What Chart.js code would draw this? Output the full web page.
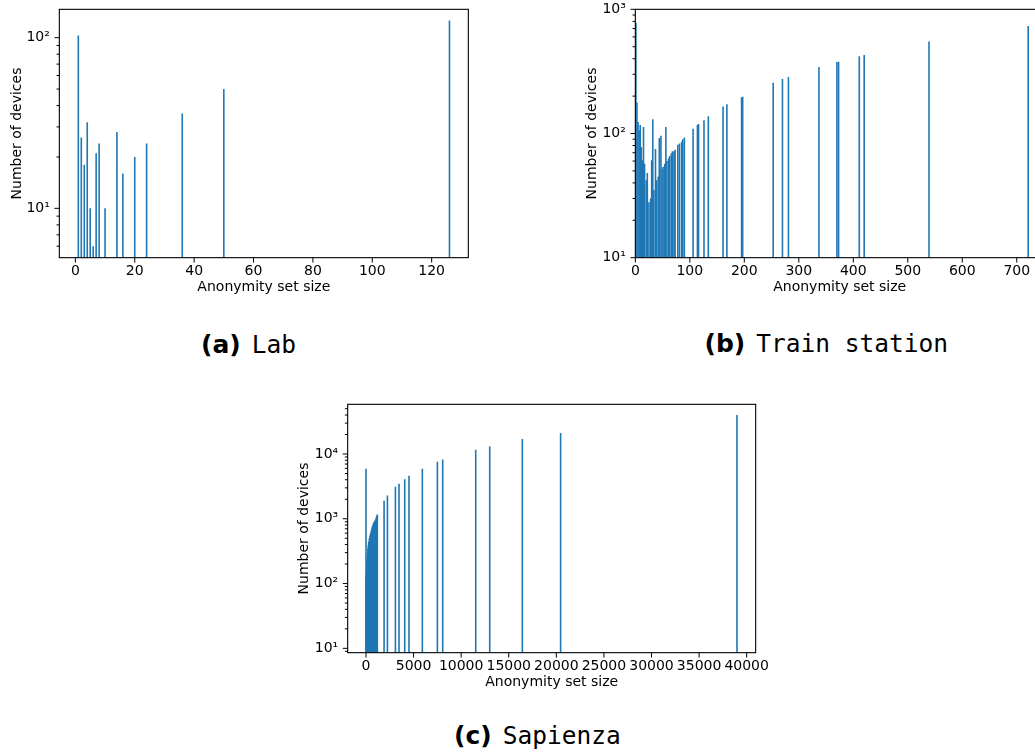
<!DOCTYPE html>
<html>
<head>
<meta charset="utf-8">
<script src="https://cdn.jsdelivr.net/npm/chart.js@4.4.0/dist/chart.umd.min.js"></script>
<style>
    html, body { margin: 0; padding: 0; background: #fff; overflow: hidden; }
    #page { position: relative; width: 1035px; height: 756px; overflow: hidden; background: #fff; }
    canvas { position: absolute; }
    .cap { position: absolute; white-space: nowrap; color: #000; font: 24.5px "DejaVu Sans Mono"; line-height: 30px; }
    .cap b { font: bold 25px "DejaVu Sans"; margin-right: 11px; }
</style>
</head>
<body>
<div id="page">
    <canvas id="lab" width="480" height="300" style="left:0;top:0"></canvas>
    <canvas id="train" width="485" height="300" style="left:570px;top:0"></canvas>
    <canvas id="sap" width="500" height="300" style="left:280px;top:395px"></canvas>
    <div class="cap" style="left:201px;top:329.5px"><b>(a)</b>Lab</div>
    <div class="cap" style="left:704.5px;top:329px"><b>(b)</b>Train station</div>
    <div class="cap" style="left:454px;top:720.5px"><b>(c)</b>Sapienza</div>
</div>
<script>
// (a) Lab
const labSizes = [1, 2, 3, 4, 5, 6, 7, 8, 10, 14, 16, 20, 24, 36, 50, 126];
const labDevices = [103, 26, 18, 32, 10, 6, 21, 24, 10, 28, 16, 20, 24, 36, 50, 126];

// (b) Train station
const trainSizes = [
    1, 3, 5, 7, 9, 11, 13, 15, 17, 20, 22, 25, 28, 30, 32, 34, 37, 39, 42, 44,
    47, 49, 51, 54, 56, 58, 61, 63, 66, 68, 71, 73, 78, 81, 85, 87, 90,
    106, 114, 116, 126, 134, 161, 168, 195, 197, 253, 270, 281, 337, 370, 373,
    411, 420, 539, 721,
];
const trainDevices = [
    785, 178, 124, 106, 117, 78, 61, 113, 57, 42, 48, 28, 30, 61, 130, 35, 75, 42, 45, 92,
    96, 52, 54, 57, 113, 60, 63, 66, 69, 72, 72, 74, 81, 83, 86, 90, 93,
    109, 117, 119, 128, 138, 165, 172, 196, 198, 256, 275, 285, 344, 376, 379,
    418, 429, 550, 735,
];

// (c) Sapienza
const sapSizes = [
    1, 10, 40, 70, 105, 140, 175, 210, 245, 280, 350, 420, 490, 560, 630, 700,
    770, 840, 910, 980, 1050, 1120, 1190,
    1900, 2250, 3090, 3470, 4070, 4520, 5920, 7500, 8060, 11530, 13000, 16430,
    20450, 38980,
];
const sapDevices = [
    5920, 122, 150, 190, 225, 258, 300, 347, 395, 440, 500, 557, 610, 670, 735, 790,
    845, 885, 920, 960, 1030, 1110, 1160,
    1900, 2290, 3120, 3470, 4090, 4610, 5920, 7590, 8240, 11640, 13120, 17020,
    21100, 40000,
];

// tick positions
const labXTicks = [0, 20, 40, 60, 80, 100, 120];
const labYTicks = [6, 7, 8, 9, 10, 20, 30, 40, 50, 60, 70, 80, 90, 100];
const trainXTicks = [0, 100, 200, 300, 400, 500, 600, 700];
const trainYTicks = [10, 20, 30, 40, 50, 60, 70, 80, 90, 100, 200, 300, 400, 500, 600, 700, 800, 900, 1000];
const sapXTicks = [0, 5000, 10000, 15000, 20000, 25000, 30000, 35000, 40000];
const sapYTicks = [
    9, 10, 20, 30, 40, 50, 60, 70, 80, 90, 100, 200, 300, 400, 500, 600, 700, 800, 900,
    1000, 2000, 3000, 4000, 5000, 6000, 7000, 8000, 9000, 10000, 20000, 30000, 40000, 50000,
];

const sup = { 1: "\u00b9", 2: "\u00b2", 3: "\u00b3", 4: "\u2074" };
const isDecade = (v) => {
    const e = Math.log10(v);
    return Math.abs(e - Math.round(e)) < 1e-9;
};

Chart.defaults.font.family = "DejaVu Sans";
Chart.defaults.font.size = 14;
Chart.defaults.color = "#000";

// matplotlib-like frame and tick marks (major / minor)
const frameAndTicks = {
    id: "frameAndTicks",
    afterDraw(chart) {
        const { ctx, chartArea: a, scales: { x, y } } = chart;
        ctx.save();
        ctx.strokeStyle = "#000";
        ctx.lineWidth = 1;
        ctx.beginPath();
        y.ticks.forEach((t) => {
            const py = y.getPixelForValue(t.value);
            const len = isDecade(t.value) ? 4.9 : 2.8;
            ctx.moveTo(a.left - len, py);
            ctx.lineTo(a.left, py);
        });
        x.ticks.forEach((t) => {
            const px = x.getPixelForValue(t.value);
            ctx.moveTo(px, a.bottom);
            ctx.lineTo(px, a.bottom + 4.9);
        });
        ctx.stroke();
        ctx.lineWidth = 1.1;
        ctx.strokeRect(a.left, a.top, a.right - a.left, a.bottom - a.top);
        ctx.restore();
    },
};

function noScalePadding(s) {
    s.paddingLeft = 0;
    s.paddingRight = 0;
    s.paddingTop = 0;
    s.paddingBottom = 0;
}

function makeChart(id, sizes, devices, c) {
    return new Chart(document.getElementById(id), {
        type: "bar",
        data: {
            datasets: [
                {
                    data: sizes.map((s, i) => ({ x: s, y: devices[i] })),
                    backgroundColor: "#1f77b4",
                    barThickness: 1.6,
                    inflateAmount: 0,
                    borderWidth: 0,
                },
            ],
        },
        options: {
            responsive: false,
            animation: false,
            devicePixelRatio: 1,
            layout: { padding: c.pad },
            plugins: {
                legend: { display: false },
                tooltip: { enabled: false },
            },
            scales: {
                x: {
                    type: "linear",
                    offset: false,
                    min: c.xMin,
                    max: c.xMax,
                    bounds: "data",
                    grid: { display: false, drawTicks: false, tickLength: 0, offset: false },
                    border: { display: false },
                    ticks: {
                        padding: 5,
                        maxRotation: 0,
                        autoSkip: false,
                        callback: (v) => String(v),
                    },
                    afterBuildTicks: (s) => {
                        s.ticks = c.xTicks.map((v) => ({ value: v }));
                    },
                    afterFit: (s) => {
                        s.height = c.xH;
                        noScalePadding(s);
                    },
                    title: {
                        display: true,
                        text: "Anonymity set size",
                        padding: { top: 0, bottom: 4.1 },
                    },
                },
                y: {
                    type: "logarithmic",
                    min: c.yMin,
                    max: c.yMax,
                    bounds: "data",
                    grid: { display: false, drawTicks: false, tickLength: 0 },
                    border: { display: false },
                    ticks: {
                        padding: 9.5,
                        autoSkip: false,
                        callback: (v) => (isDecade(v) ? "10" + sup[Math.round(Math.log10(v))] : ""),
                    },
                    afterBuildTicks: (s) => {
                        s.ticks = c.yTicks.map((v) => ({ value: v }));
                    },
                    afterFit: (s) => {
                        s.width = c.yW;
                        noScalePadding(s);
                    },
                    title: {
                        display: true,
                        text: "Number of devices",
                        padding: { top: c.yTitlePad, bottom: 0 },
                    },
                },
            },
        },
        plugins: [frameAndTicks],
    });
}

makeChart("lab", labSizes, labDevices, {
    xMin: -5.4, xMax: 132.35, yMin: 5.14, yMax: 146.6,
    xTicks: labXTicks, yTicks: labYTicks,
    yW: 59.33, xH: 42.33, yTitlePad: 8.5,
    pad: { left: 0, top: 9.33, right: 11.67, bottom: 0 },
});

makeChart("train", trainSizes, trainDevices, {
    xMin: 0, xMax: 750, yMin: 10, yMax: 1000,
    xTicks: trainXTicks, yTicks: trainYTicks,
    yW: 65.33, xH: 42.33, yTitlePad: 13.8,
    pad: { left: 0, top: 9.33, right: 11, bottom: 0 },
});

makeChart("sap", sapSizes, sapDevices, {
    xMin: -1926, xMax: 40946, yMin: 8.57, yMax: 58450,
    xTicks: sapXTicks, yTicks: sapYTicks,
    yW: 67.67, xH: 42.33, yTitlePad: 16.3,
    pad: { left: 0, top: 9.33, right: 24.33, bottom: 0 },
});
</script>
</body>
</html>
